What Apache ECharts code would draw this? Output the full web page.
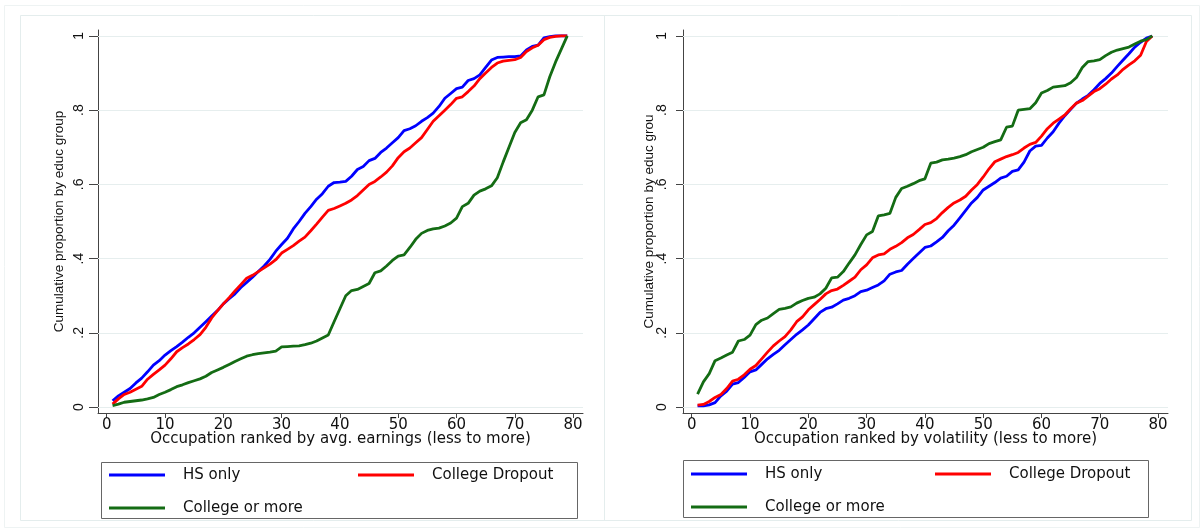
<!DOCTYPE html>
<html><head><meta charset="utf-8">
<script src="https://cdn.jsdelivr.net/npm/echarts@6/dist/echarts.min.js"></script>
<style>html,body{margin:0;padding:0;background:#fff}#c{width:1204px;height:531px}</style>
</head><body><div id="c"></div><script>
// Occupation ranks (x)
const ranks = [1,2,3,4,5,6,7,8,9,10,11,12,13,14,15,16,17,18,19,20,21,22,23,24,25,26,27,28,29,30,31,32,33,34,35,36,37,38,39,40,41,42,43,44,45,46,47,48,49,50,51,52,53,54,55,56,57,58,59,60,61,62,63,64,65,66,67,68,69,70,71,72,73,74,75,76,77,78,79];

// Left panel: ranked by avg. earnings
const earnHS = [0.017,0.03,0.04,0.05,0.065,0.078,0.095,0.113,0.125,0.14,0.152,0.163,0.175,0.188,0.2,0.215,0.23,0.245,0.26,0.278,0.292,0.305,0.322,0.336,0.35,0.365,0.38,0.398,0.42,0.438,0.455,0.48,0.5,0.522,0.54,0.56,0.575,0.595,0.605,0.606,0.608,0.622,0.64,0.648,0.664,0.67,0.686,0.698,0.712,0.726,0.745,0.75,0.758,0.77,0.78,0.792,0.81,0.832,0.845,0.858,0.862,0.88,0.885,0.895,0.915,0.935,0.942,0.943,0.944,0.944,0.946,0.962,0.972,0.975,0.995,0.998,1,1,1];
const earnDrop = [0.008,0.022,0.034,0.04,0.048,0.056,0.075,0.088,0.1,0.113,0.13,0.149,0.16,0.17,0.182,0.195,0.215,0.24,0.26,0.278,0.295,0.313,0.33,0.347,0.355,0.365,0.375,0.385,0.397,0.415,0.425,0.435,0.447,0.458,0.475,0.493,0.512,0.53,0.535,0.542,0.549,0.558,0.57,0.585,0.6,0.608,0.62,0.633,0.65,0.672,0.688,0.698,0.712,0.726,0.748,0.77,0.785,0.8,0.815,0.832,0.836,0.85,0.865,0.885,0.9,0.915,0.927,0.932,0.934,0.936,0.942,0.958,0.968,0.975,0.99,0.996,0.999,1,1];
const earnCol = [0.004,0.008,0.013,0.015,0.017,0.019,0.022,0.026,0.034,0.04,0.047,0.055,0.06,0.066,0.071,0.076,0.083,0.093,0.1,0.107,0.115,0.123,0.13,0.137,0.141,0.144,0.146,0.148,0.151,0.162,0.163,0.164,0.165,0.168,0.172,0.178,0.186,0.194,0.23,0.265,0.3,0.314,0.317,0.325,0.333,0.362,0.367,0.38,0.395,0.407,0.41,0.43,0.452,0.468,0.476,0.48,0.482,0.488,0.496,0.509,0.54,0.549,0.571,0.582,0.588,0.596,0.618,0.66,0.7,0.74,0.766,0.774,0.8,0.836,0.841,0.89,0.93,0.965,1];

// Right panel: ranked by volatility
const volHS = [0.003,0.003,0.006,0.012,0.03,0.043,0.062,0.066,0.08,0.095,0.1,0.115,0.13,0.142,0.153,0.168,0.182,0.196,0.208,0.221,0.238,0.255,0.265,0.269,0.278,0.288,0.293,0.3,0.311,0.315,0.322,0.329,0.34,0.358,0.364,0.368,0.385,0.4,0.415,0.43,0.434,0.445,0.457,0.475,0.49,0.51,0.53,0.55,0.565,0.585,0.595,0.605,0.617,0.622,0.635,0.639,0.66,0.69,0.703,0.705,0.725,0.742,0.765,0.785,0.802,0.819,0.83,0.84,0.855,0.872,0.885,0.9,0.918,0.935,0.952,0.97,0.983,0.994,1];
const volDrop = [0.005,0.007,0.015,0.026,0.034,0.05,0.07,0.075,0.087,0.102,0.112,0.13,0.148,0.165,0.178,0.19,0.208,0.23,0.243,0.262,0.276,0.29,0.305,0.314,0.318,0.328,0.339,0.35,0.37,0.383,0.402,0.41,0.413,0.425,0.433,0.443,0.456,0.465,0.478,0.492,0.497,0.508,0.524,0.538,0.55,0.558,0.568,0.585,0.6,0.62,0.642,0.661,0.668,0.675,0.68,0.686,0.698,0.708,0.713,0.73,0.75,0.765,0.776,0.787,0.804,0.819,0.826,0.838,0.85,0.858,0.87,0.884,0.895,0.91,0.922,0.933,0.948,0.985,1];
const volCol = [0.035,0.068,0.09,0.125,0.132,0.14,0.148,0.178,0.182,0.194,0.222,0.234,0.24,0.252,0.263,0.266,0.27,0.28,0.287,0.293,0.296,0.305,0.32,0.348,0.35,0.365,0.388,0.41,0.438,0.464,0.473,0.515,0.518,0.522,0.565,0.589,0.595,0.602,0.61,0.615,0.657,0.66,0.666,0.668,0.671,0.675,0.68,0.688,0.694,0.7,0.71,0.715,0.72,0.754,0.757,0.8,0.802,0.804,0.82,0.846,0.853,0.862,0.864,0.866,0.874,0.888,0.915,0.931,0.933,0.936,0.947,0.956,0.962,0.966,0.97,0.978,0.986,0.99,1];

const seriesNames = ['HS only','College Dropout','College or more'];
const xTicks = [0,10,20,30,40,50,60,70,80];
const yTicks = [0,0.2,0.4,0.6,0.8,1];
const yTickLabels = ['0','.2','.4','.6','.8','1'];
const xTitles = ['Occupation ranked by avg. earnings (less to more)','Occupation ranked by volatility (less to more)'];
const yTitles = ['Cumulative proportion by educ group','Cumulative proportion by educ grou'];

const colors = ['#0000ff','#ff0000','#146c14'];
const HFONT = 'DejaVu Sans';
const VFONT = 'Liberation Sans, Arial, sans-serif';

function pairs(vals){ return ranks.map((r,i)=>[r, vals[i]]); }

function xAxisCfg(g){
  return {type:'value', gridIndex:g, min:-1.5, max:81.7,
    name:xTitles[g], nameLocation:'middle', nameGap:19, nameMoveOverlap:false,
    nameTextStyle:{fontFamily:HFONT, fontSize:15, color:'#111'},
    axisLine:{show:true, onZero:false, lineStyle:{color:'#444', width:1}},
    axisTick:{show:true, length:5, customValues:xTicks, lineStyle:{color:'#444'}},
    axisLabel:{customValues:xTicks, margin:5, fontFamily:HFONT, fontSize:15, color:'#111'},
    splitLine:{show:false}};
}
function yAxisCfg(g){
  return {type:'value', gridIndex:g, min:-0.016, max:1.016,
    name:yTitles[g], nameLocation:'middle', nameGap:g===0?32:27, nameRotate:90, nameMoveOverlap:false,
    nameTextStyle:{fontFamily:VFONT, fontSize:13.5, color:'#111'},
    axisLine:{show:true, onZero:false, lineStyle:{color:'#444', width:1}},
    axisTick:{show:true, length:g===0?9:7, customValues:yTicks, lineStyle:{color:'#444'}},
    axisLabel:{customValues:yTicks, rotate:90, margin:g===0?12:14, fontFamily:VFONT, fontSize:14, color:'#111',
      formatter:function(v){ const i = yTicks.findIndex(t=>Math.abs(t-v)<1e-9); return i>=0?yTickLabels[i]:''; }},
    splitLine:{show:false}};
}
function lineSeries(name, vals, g, ci, withGrid){
  const s = {type:'line', name:name, xAxisIndex:g, yAxisIndex:g, data:pairs(vals),
    symbol:'none', showSymbol:false, smooth:false, z:3,
    lineStyle:{color:colors[ci], width:2.8}, itemStyle:{color:colors[ci]},
    emphasis:{disabled:true}, silent:true};
  if(withGrid){
    s.markLine = {silent:true, symbol:'none', z:1, label:{show:false},
      lineStyle:{color:'#e6eeee', width:1, type:'solid'},
      emphasis:{disabled:true},
      data: yTicks.map(t=>({yAxis:t}))};
  }
  return s;
}
function leg(name, left, top){
  return {data:[name], left:left, top:top, padding:0, itemWidth:56, itemHeight:3, icon:'rect',
    selectedMode:false, textStyle:{fontFamily:HFONT, fontSize:15, color:'#111', padding:[0,0,0,13], lineHeight:18}};
}

const option = {
  animation:false,
  backgroundColor:'#fff',
  grid:[{left:98, top:30, width:485, height:383},{left:683, top:30, width:485, height:383}],
  xAxis:[xAxisCfg(0), xAxisCfg(1)],
  yAxis:[yAxisCfg(0), yAxisCfg(1)],
  legend:[
    leg(seriesNames[0], 109, 466), leg(seriesNames[1], 358, 466), leg(seriesNames[2], 109, 499),
    leg(seriesNames[0], 691, 465), leg(seriesNames[1], 935, 465), leg(seriesNames[2], 691, 498)
  ],
  graphic:[
    {type:'rect', silent:true, z:-10, shape:{x:4.5,y:5.5,width:1195,height:522}, style:{fill:null, stroke:'#eef3f3', lineWidth:1}},
    {type:'rect', silent:true, z:-10, shape:{x:20.5,y:15.5,width:1171,height:505}, style:{fill:null, stroke:'#e4eded', lineWidth:1}},
    {type:'line', silent:true, z:-10, shape:{x1:604.5,y1:15,x2:604.5,y2:521}, style:{stroke:'#e4eded', lineWidth:1}},
    {type:'rect', silent:true, shape:{x:101.5,y:462.5,width:476,height:56}, style:{fill:null, stroke:'#666', lineWidth:1}},
    {type:'rect', silent:true, shape:{x:683.5,y:460.5,width:465,height:57}, style:{fill:null, stroke:'#666', lineWidth:1}}
  ],
  series:[
    lineSeries(seriesNames[0], earnHS, 0, 0, true),
    lineSeries(seriesNames[1], earnDrop, 0, 1, false),
    lineSeries(seriesNames[2], earnCol, 0, 2, false),
    lineSeries(seriesNames[0], volHS, 1, 0, true),
    lineSeries(seriesNames[1], volDrop, 1, 1, false),
    lineSeries(seriesNames[2], volCol, 1, 2, false)
  ]
};
const chart = echarts.init(document.getElementById('c'), null, {renderer:'canvas'});
chart.setOption(option);
</script></body></html>
